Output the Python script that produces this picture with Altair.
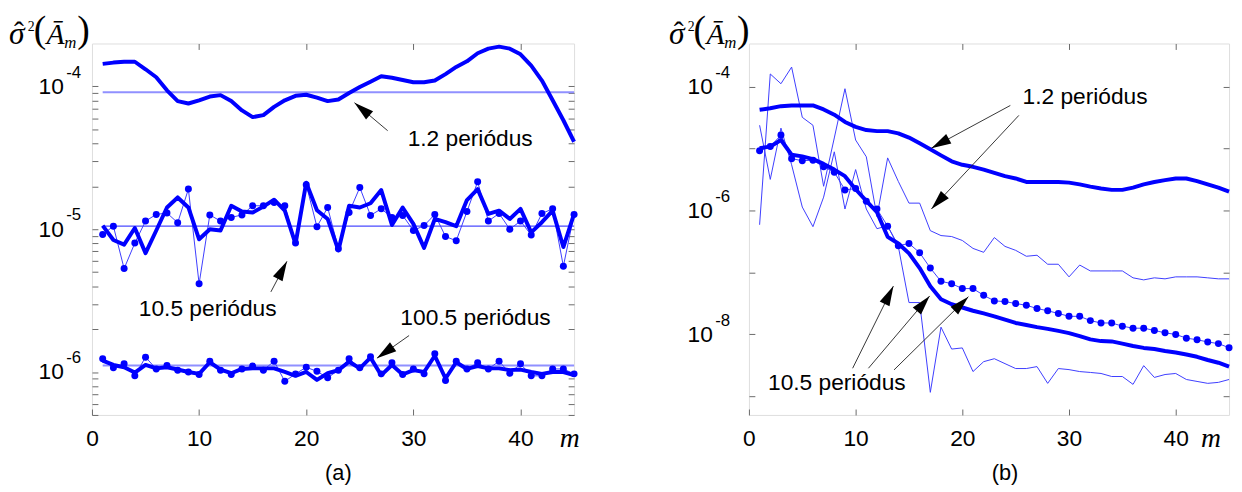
import math
import altair as alt
import pandas as pd

M = list(range(1, 46))

# ---------------- panel (a) data ----------------
A_12_THICK = [1.44e-4, 1.47e-4, 1.49e-4, 1.49e-4, 1.32e-4, 1.16e-4, 9.4e-5, 7.9e-5, 7.6e-5, 8.0e-5,
              8.5e-5, 8.7e-5, 7.9e-5, 6.8e-5, 6.1e-5, 6.3e-5, 7.2e-5, 8.0e-5, 8.6e-5, 8.75e-5,
              8.35e-5, 7.9e-5, 8.1e-5, 9.0e-5, 9.9e-5, 1.08e-4, 1.18e-4, 1.15e-4, 1.11e-4, 1.07e-4,
              1.07e-4, 1.10e-4, 1.22e-4, 1.37e-4, 1.50e-4, 1.71e-4, 1.84e-4, 1.90e-4, 1.84e-4, 1.68e-4,
              1.40e-4, 1.10e-4, 8.0e-5, 5.8e-5, 4.1e-5]
A_105_THICK = [1.06e-5, 8.4e-6, 7.8e-6, 1.02e-5, 6.8e-6, 9.8e-6, 1.42e-5, 1.67e-5, 1.42e-5, 8.5e-6,
               1.0e-5, 9.8e-6, 1.46e-5, 1.33e-5, 1.31e-5, 1.44e-5, 1.61e-5, 1.35e-5, 7.9e-6, 2.12e-5,
               1.36e-5, 1.18e-5, 7.1e-6, 1.46e-5, 1.42e-5, 1.52e-5, 1.88e-5, 1.07e-5, 1.42e-5, 1.09e-5,
               7.4e-6, 1.18e-5, 1.12e-5, 1.05e-5, 1.6e-5, 1.91e-5, 1.28e-5, 1.35e-5, 1.18e-5, 1.39e-5,
               9.5e-6, 1.12e-5, 1.35e-5, 7.5e-6, 1.28e-5]
A_105_DOTS = [9.2e-6, 1.05e-5, 5.3e-6, 8.0e-6, 1.14e-5, 1.27e-5, 1.30e-5, 1.11e-5, 1.91e-5, 4.15e-6,
              1.26e-5, 1.14e-5, 1.21e-5, 1.26e-5, 1.46e-5, 1.46e-5, 1.54e-5, 1.46e-5, 8.0e-6, 2.05e-5,
              1.04e-5, 1.42e-5, 7.3e-6, 1.31e-5, 1.96e-5, 1.25e-5, 1.39e-5, 1.21e-5, 1.25e-5, 9.8e-6,
              1.06e-5, 1.27e-5, 8.9e-6, 8.3e-6, 1.33e-5, 2.15e-5, 1.14e-5, 1.29e-5, 1.0e-5, 1.14e-5,
              9.1e-6, 1.29e-5, 1.39e-5, 5.5e-6, 1.27e-5]
A_1005_THICK = [1.2e-6, 1.12e-6, 1.08e-6, 9.9e-7, 1.12e-6, 1.06e-6, 1.08e-6, 1.04e-6, 1.0e-6, 9.7e-7,
                1.17e-6, 1.04e-6, 9.8e-7, 1.05e-6, 1.06e-6, 1.06e-6, 1.06e-6, 1.0e-6, 9.4e-7, 1.0e-6,
                8.8e-7, 9.8e-7, 1.03e-6, 1.18e-6, 1.06e-6, 1.26e-6, 9.5e-7, 1.12e-6, 9.6e-7, 1.03e-6,
                1.0e-6, 1.3e-6, 9.0e-7, 1.17e-6, 1.05e-6, 1.1e-6, 1.06e-6, 1.06e-6, 1.03e-6, 1.04e-6,
                1.0e-6, 9.7e-7, 1.0e-6, 1.0e-6, 9.5e-7]
A_1005_DOTS = [1.24e-6, 1.07e-6, 1.14e-6, 9.4e-7, 1.27e-6, 1.05e-6, 1.11e-6, 1.03e-6, 1.0e-6, 9.6e-7,
               1.19e-6, 1.03e-6, 9.6e-7, 1.05e-6, 1.10e-6, 1.03e-6, 1.19e-6, 8.6e-7, 9.7e-7, 1.08e-6,
               1.01e-6, 9.1e-7, 1.03e-6, 1.24e-6, 1.07e-6, 1.28e-6, 9.7e-7, 1.16e-6, 9.6e-7, 1.05e-6,
               9.7e-7, 1.34e-6, 8.7e-7, 1.19e-6, 1.05e-6, 1.16e-6, 1.05e-6, 1.19e-6, 9.8e-7, 1.14e-6,
               9.4e-7, 9.4e-7, 1.05e-6, 1.05e-6, 9.7e-7]
A_REF_VALUES = [9.1e-5, 1.05e-5, 1.11e-6]
A_REF_FROM = [1, 1, 1]
A_REF_TO = [45, 45, 45]
A_REF_COLORS = ["#9090ff", "#4a4aff", "#9090ff"]
A_REF_WIDTHS = [2.0, 1.3, 2.0]

# ---------------- panel (b) data ----------------
B_12_THICK = [4.25e-5, 4.5e-5, 4.86e-5, 4.99e-5, 5.0e-5, 5.0e-5, 4.3e-5, 3.54e-5, 2.7e-5, 2.25e-5,
              2.0e-5, 1.92e-5, 1.92e-5, 1.77e-5, 1.51e-5, 1.22e-5, 9.8e-6, 7.8e-6, 6.25e-6, 5.5e-6,
              5.1e-6, 4.6e-6, 4.07e-6, 3.6e-6, 3.3e-6, 2.9e-6, 2.9e-6, 2.9e-6, 2.9e-6, 2.83e-6,
              2.65e-6, 2.44e-6, 2.27e-6, 2.16e-6, 2.16e-6, 2.35e-6, 2.65e-6, 2.9e-6, 3.1e-6, 3.3e-6,
              3.3e-6, 3.0e-6, 2.65e-6, 2.35e-6, 2.03e-6]
B_12_THIN = [5.9e-7, 1.61e-4, 1.12e-4, 2.08e-4, 3.21e-5, 2.39e-5, 2.47e-6, 1.49e-5, 9.3e-5, 1.38e-5,
             7.4e-6, 8.0e-7, 7.1e-6, 2.96e-6, 1.32e-6, 1.32e-6, 4.74e-7, 3.95e-7, 3.81e-7, 3.29e-7,
             2.45e-7, 2.12e-7, 3.67e-7, 2.64e-7, 2.28e-7, 1.83e-7, 1.90e-7, 1.36e-7, 1.36e-7, 8.5e-8,
             1.32e-7, 1.06e-7, 1.06e-7, 1.06e-7, 1.06e-7, 8.2e-8, 7.6e-8, 8.2e-8, 7.9e-8, 8.5e-8,
             8.5e-8, 8.5e-8, 8.2e-8, 7.9e-8, 7.9e-8]
B_105_THICK = [1.02e-5, 1.08e-5, 1.38e-5, 7.98e-6, 7.5e-6, 6.8e-6, 5.68e-6, 4.6e-6, 3.6e-6, 2.21e-6,
               1.44e-6, 9.4e-7, 3.77e-7, 2.94e-7, 2.04e-7, 1.18e-7, 6.0e-8, 3.69e-8, 3.07e-8, 2.72e-8,
               2.41e-8, 2.18e-8, 1.96e-8, 1.73e-8, 1.53e-8, 1.42e-8, 1.31e-8, 1.23e-8, 1.14e-8, 1.05e-8,
               9.4e-9, 8.3e-9, 7.8e-9, 7.7e-9, 7.1e-9, 6.5e-9, 6.05e-9, 5.8e-9, 5.4e-9, 5.1e-9,
               4.74e-9, 4.35e-9, 3.86e-9, 3.49e-9, 3.02e-9]
B_105_THIN = [2.39e-5, 3.19e-6, 2.15e-5, 5.5e-6, 1.14e-6, 5.5e-7, 1.65e-6, 8.9e-6, 1.06e-6, 4.6e-6,
              1.06e-6, 5.1e-7, 5.7e-7, 2.64e-7, 3.27e-8, 3.27e-8, 1.16e-9, 1.31e-8, 5.8e-9, 6.05e-9,
              2.51e-9, 3.63e-9, 4.05e-9, 3.37e-9, 2.81e-9, 2.81e-9, 3.02e-9, 1.62e-9, 2.81e-9, 2.7e-9,
              2.51e-9, 2.43e-9, 2.34e-9, 2.09e-9, 2.09e-9, 1.56e-9, 3.13e-9, 2.02e-9, 2.25e-9, 2.34e-9,
              1.87e-9, 1.74e-9, 1.62e-9, 1.68e-9, 1.87e-9]
B_105_DOTS = [9.3e-6, 1.08e-5, 1.66e-5, 6.9e-6, 6.4e-6, 6.5e-6, 5.1e-6, 4.17e-6, 2.16e-6, 2.27e-6,
              1.41e-6, 1.06e-6, 5.6e-7, 2.71e-7, 2.94e-7, 2.09e-7, 1.18e-7, 7.2e-8, 6.6e-8, 5.5e-8,
              5.5e-8, 4.28e-8, 3.48e-8, 3.39e-8, 3.15e-8, 2.96e-8, 2.62e-8, 2.41e-8, 2.18e-8, 1.96e-8,
              1.96e-8, 1.67e-8, 1.53e-8, 1.53e-8, 1.36e-8, 1.26e-8, 1.26e-8, 1.16e-8, 1.06e-8, 1.0e-8,
              8.7e-9, 8.2e-9, 7.55e-9, 7.1e-9, 6.1e-9]

# ---------------- annotations ----------------
A_TEXT = ["1.2 periódus", "10.5 periódus", "100.5 periódus"]
A_TEXT_M = [35.3, 10.8, 35.8]
A_TEXT_V = [4.3e-5, 2.77e-6, 2.4e-6]
A_ARROW_M0 = [27.6, 16.7, 29.6]
A_ARROW_V0 = [4.9e-5, 3.64e-6, 1.8e-6]
A_ARROW_M1 = [24.5, 18.2, 26.6]
A_ARROW_V1 = [7.7e-5, 5.96e-6, 1.25e-6]

B_TEXT = ["1.2 periódus", "10.5 periódus"]
B_TEXT_M = [31.5, 8.24]
B_TEXT_V = [6.76e-5, 1.64e-9]
B_ARROW_M0 = [24.5, 25.3, 9.72, 11.2, 13.6]
B_ARROW_V0 = [4.99e-5, 3.45e-5, 2.84e-9, 2.84e-9, 2.67e-9]
B_ARROW_M1 = [17.1, 17.1, 13.54, 16.94, 20.57]
B_ARROW_V1 = [1.02e-5, 1.06e-6, 6.03e-8, 4.18e-8, 4.07e-8]

# ---------------- axes ----------------
X_TICKS = [0, 10, 20, 30, 40]
A_Y_DOMAIN = [5e-7, 2e-4]
A_Y_MAJOR = [1e-6, 1e-5, 1e-4]
A_Y_EXP = ["-6", "-5", "-4"]
A_Y_MINOR = [5e-7, 6e-7, 7e-7, 8e-7, 9e-7,
             2e-6, 3e-6, 4e-6, 5e-6, 6e-6, 7e-6, 8e-6, 9e-6,
             2e-5, 3e-5, 4e-5, 5e-5, 6e-5, 7e-5, 8e-5, 9e-5]
B_Y_DOMAIN = [5e-10, 5e-4]
B_Y_MAJOR = [1e-8, 1e-6, 1e-4]
B_Y_EXP = ["-8", "-6", "-4"]
B_Y_MINOR = [1e-9, 1e-7, 1e-5]

SANS = "Liberation Sans"
SERIF = "Liberation Serif"
BLUE = "#0000ff"
THIN = "#3c3cff"
FRAME = "#6a6a6a"
TICK = 6
HEAD = "M0,0L0.55,2L-0.55,2Z"


def log_px(v, dom, H):
    lo, hi = math.log10(dom[0]), math.log10(dom[1])
    return H * (hi - math.log10(v)) / (hi - lo)


def arrow_angles(m0, v0, m1, v1, dom, W, H):
    out = []
    for a, b, c, d in zip(m0, v0, m1, v1):
        x0, y0 = a / 45 * W, log_px(b, dom, H)
        x1, y1 = c / 45 * W, log_px(d, dom, H)
        out.append(math.degrees(math.atan2(x1 - x0, -(y1 - y0))) % 360)
    return out


def long_df(series):
    rows = []
    for name, vals in series.items():
        for m, v in zip(M, vals):
            rows.append({"m": m, "v": v, "s": name})
    return pd.DataFrame(rows)


def make_panel(p):
    W, H, dom = p["W"], p["H"], p["dom"]
    xs = alt.Scale(domain=[0, 45], nice=False, zero=False)
    ys = alt.Scale(type="log", domain=dom, nice=False)

    def X(field="m", axis=None):
        return alt.X(f"{field}:Q", scale=xs, axis=axis)

    def Y(field="v", axis=None):
        return alt.Y(f"{field}:Q", scale=ys, axis=axis)

    yticks = sorted(p["major"] + p["minor"])
    major_list = ",".join(repr(v) for v in p["major"])
    left = alt.Axis(orient="left", values=yticks, grid=False, domain=False, title=None,
                    labelExpr=f"indexof([{major_list}], datum.value) >= 0 ? '10' : ''",
                    tickSize=TICK, offset=-TICK, tickColor=FRAME, labelPadding=p["ylab_pad"],
                    labelFont=SANS, labelFontSize=23, labelColor="black", labelOverlap=False,
                    labelBaseline="middle")
    right = alt.Axis(orient="right", values=yticks, grid=False, domain=False, title=None,
                     labels=False, tickSize=TICK, offset=-TICK, tickColor=FRAME)
    bottom = alt.Axis(orient="bottom", values=X_TICKS, grid=False, domain=False, title=None,
                      format="d", tickSize=TICK, offset=-TICK, tickColor=FRAME, labelPadding=13,
                      labelFont=SANS, labelFontSize=23, labelColor="black", labelFlush=False)
    top = alt.Axis(orient="top", values=X_TICKS[1:], grid=False, domain=False, title=None,
                   labels=False, tickSize=TICK, offset=-TICK, tickColor=FRAME)

    layers = []
    if p.get("ref") is not None:
        layers.append(alt.Chart(p["ref"]).mark_rule().encode(
            x=X("m0"), x2=alt.X2("m1"), y=Y("v"),
            color=alt.Color("c:N", scale=None),
            strokeWidth=alt.StrokeWidth("w:Q", scale=None)))
    layers.append(alt.Chart(p["thin"]).mark_line(color=THIN, strokeWidth=1).encode(
        x=X(axis=top), y=Y(axis=right), detail="s:N"))
    layers.append(alt.Chart(p["dots"]).mark_circle(color=BLUE, size=50, opacity=1).encode(
        x=X(), y=Y()))
    layers.append(alt.Chart(p["thick"]).mark_line(color=BLUE, strokeWidth=4,
                                                 strokeJoin="round").encode(
        x=X(axis=bottom), y=Y(axis=left), detail="s:N"))
    arr = p["arrows"].copy()
    arr["ang"] = arrow_angles(arr["m0"], arr["v0"], arr["m1"], arr["v1"], dom, W, H)
    layers.append(alt.Chart(arr).mark_rule(color="#202020", strokeWidth=0.9).encode(
        x=X("m0"), y=Y("v0"), x2=alt.X2("m1"), y2=alt.Y2("v1")))
    layers.append(alt.Chart(arr).mark_point(shape=HEAD, filled=True, color="black", size=400,
                                            opacity=1, strokeWidth=0).encode(
        x=X("m1"), y=Y("v1"), angle=alt.Angle("ang:Q", scale=None)))
    layers.append(alt.Chart(p["texts"]).mark_text(font=SANS, fontSize=23, color="black",
                                                  align="center", baseline="middle").encode(
        x=X(), y=Y(), text="t:N"))
    exp_df = pd.DataFrame({"m": [0] * len(p["major"]), "v": p["major"], "t": p["exp"]})
    layers.append(alt.Chart(exp_df).mark_text(font=SANS, fontSize=17, color="black",
                                              align="right", baseline="alphabetic",
                                              dx=p["exp_dx"], dy=-9).encode(
        x=X(), y=Y(), text="t:N"))
    corner = pd.DataFrame({"m": [0], "v": [dom[1]]})
    t0 = p["title_dx"]
    pieces = [
        ("σ", SERIF, 32, "italic", t0, 0, "left"),
        ("ˆ", SERIF, 30, "normal", t0 + 10, -2, "center"),
        ("2", SERIF, 14, "normal", t0 + 19, -13, "left"),
        ("(", SERIF, 38, "normal", t0 + 25, -2, "left"),
        ("Ā", SERIF, 30, "italic", t0 + 38, 0, "left"),
        ("m", SERIF, 17, "italic", t0 + 56, 5, "left"),
        (")", SERIF, 38, "normal", t0 + 69, -2, "left"),
    ]
    for txt, fnt, size, style, dx, dy, al in pieces:
        layers.append(alt.Chart(corner).mark_text(text=txt, font=fnt, fontSize=size,
                                                  fontStyle=style, color="black", align=al,
                                                  baseline="alphabetic", dx=dx, dy=dy).encode(
            x=X(), y=Y()))
    base_m = pd.DataFrame({"m": [p["m_label"]], "v": [dom[0]]})
    layers.append(alt.Chart(base_m).mark_text(text="m", font=SERIF, fontSize=28,
                                              fontStyle="italic", color="black",
                                              align="center", baseline="alphabetic",
                                              dy=32).encode(x=X(), y=Y()))
    base_c = pd.DataFrame({"m": [p["cap_m"]], "v": [dom[0]]})
    layers.append(alt.Chart(base_c).mark_text(text=p["caption"], font=SANS, fontSize=22,
                                              color="black", align="center",
                                              baseline="middle", dy=59).encode(x=X(), y=Y()))

    return alt.layer(*layers).properties(width=W, height=H).resolve_axis(
        x="independent", y="independent")


ref_a = pd.DataFrame({"m0": A_REF_FROM, "m1": A_REF_TO, "v": A_REF_VALUES,
                      "c": A_REF_COLORS, "w": A_REF_WIDTHS})

panel_a = make_panel({
    "W": 488, "H": 376, "dom": A_Y_DOMAIN,
    "major": A_Y_MAJOR, "minor": A_Y_MINOR, "exp": A_Y_EXP,
    "ylab_pad": 29, "exp_dx": -11, "title_dx": -84,
    "ref": ref_a,
    "thin": long_df({"d105": A_105_DOTS, "d1005": A_1005_DOTS}),
    "dots": long_df({"d105": A_105_DOTS, "d1005": A_1005_DOTS}),
    "thick": long_df({"t12": A_12_THICK, "t105": A_105_THICK, "t1005": A_1005_THICK}),
    "arrows": pd.DataFrame({"m0": A_ARROW_M0, "v0": A_ARROW_V0,
                            "m1": A_ARROW_M1, "v1": A_ARROW_V1}),
    "texts": pd.DataFrame({"m": A_TEXT_M, "v": A_TEXT_V, "t": A_TEXT}),
    "m_label": 44.6, "cap_m": 23.0, "caption": "(a)",
})

panel_b = make_panel({
    "W": 486, "H": 376, "dom": B_Y_DOMAIN,
    "major": B_Y_MAJOR, "minor": B_Y_MINOR, "exp": B_Y_EXP,
    "ylab_pad": 37, "exp_dx": -19, "title_dx": -81,
    "ref": None,
    "thin": long_df({"a12": B_12_THIN, "a105": B_105_THIN, "d105": B_105_DOTS}),
    "dots": long_df({"d105": B_105_DOTS}),
    "thick": long_df({"t12": B_12_THICK, "t105": B_105_THICK}),
    "arrows": pd.DataFrame({"m0": B_ARROW_M0, "v0": B_ARROW_V0,
                            "m1": B_ARROW_M1, "v1": B_ARROW_V1}),
    "texts": pd.DataFrame({"m": B_TEXT_M, "v": B_TEXT_V, "t": B_TEXT}),
    "m_label": 43.3, "cap_m": 24.0, "caption": "(b)",
})

chart = alt.hconcat(panel_a, panel_b, spacing=88).properties(
    padding={"left": 0, "top": 0, "right": 0, "bottom": 0}
).configure_view(stroke=FRAME, strokeWidth=1).configure(background="white")

chart.save("out.html", embed_options={"renderer": "svg", "actions": False})
